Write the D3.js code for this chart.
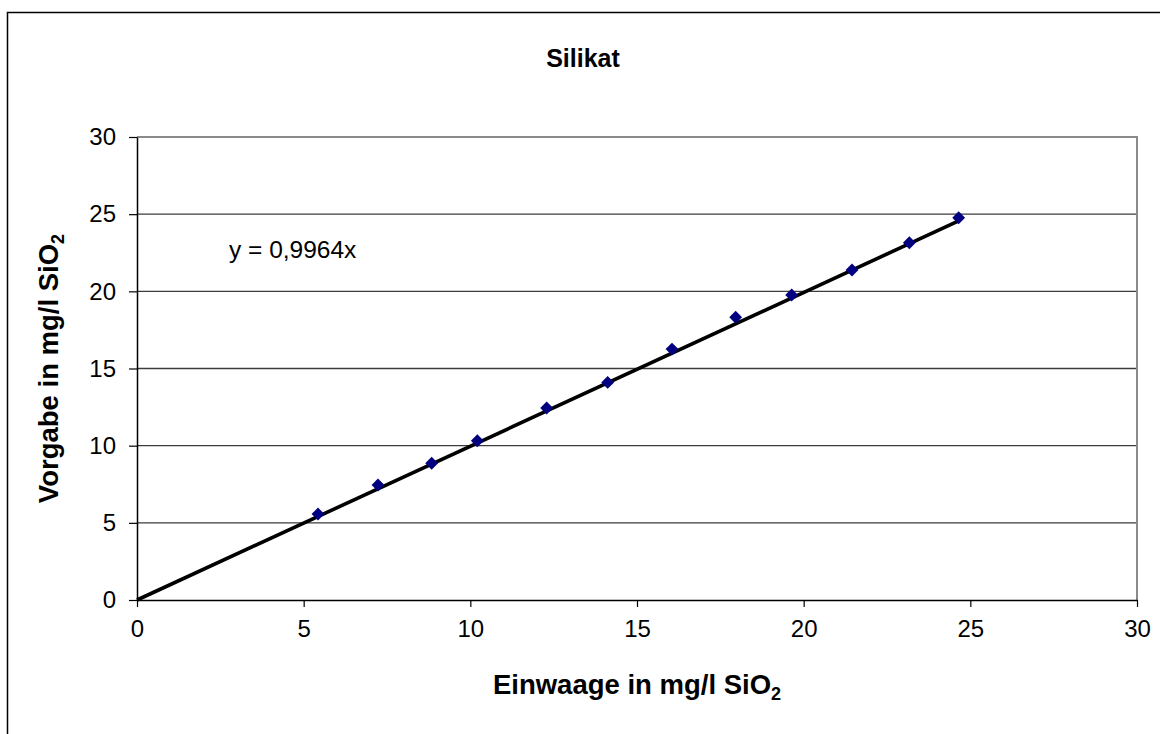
<!DOCTYPE html>
<html><head><meta charset="utf-8">
<script src="https://cdn.jsdelivr.net/npm/d3@7"></script>
<style>html,body{margin:0;padding:0;background:#fff}svg{display:block}</style>
</head><body>
<script>
const title = "Silikat";
const xTitle = "Einwaage in mg/l SiO";
const yTitle = "Vorgabe in mg/l SiO";
const einwaage = [5.43, 7.23, 8.84, 10.21, 12.29, 14.12, 16.05, 17.96, 19.64, 21.45, 23.17, 24.65];
const vorgabe  = [5.57, 7.45, 8.86, 10.32, 12.44, 14.10, 16.26, 18.32, 19.76, 21.38, 23.15, 24.77];
const slope = 0.9964;
const equation = "y = 0,9964x";
const xTicks = [0, 5, 10, 15, 20, 25, 30];
const yTicks = [0, 5, 10, 15, 20, 25, 30];

const W = 1160, H = 734;
const m = {left: 137, top: 137, right: 1137, bottom: 600};
const font = "Arial, 'Liberation Sans', sans-serif";

const svg = d3.select("body").append("svg").attr("width", W).attr("height", H);
svg.append("rect").attr("width", W).attr("height", H).attr("fill", "#fff");
svg.append("path").attr("d", `M7.5,${H} V12.5 H${W}`).attr("fill", "none").attr("stroke", "#000").attr("stroke-width", 1.5);

const x = d3.scaleLinear().domain([0, 30]).range([m.left, m.right]);
const y = d3.scaleLinear().domain([0, 30]).range([m.bottom, m.top]);

// gridlines
svg.append("g").selectAll("line").data(yTicks.filter(t => t > 0 && t < 30)).join("line")
  .attr("x1", m.left).attr("x2", m.right).attr("y1", d => y(d)).attr("y2", d => y(d))
  .attr("stroke", "#3c3c3c").attr("stroke-width", 1.3);

// plot border (top/right gray)
svg.append("path").attr("d", `M${m.left},${m.top} H${m.right} V${m.bottom}`)
  .attr("fill", "none").attr("stroke", "#8a8a8a").attr("stroke-width", 2);

// axes
const xAxis = svg.append("g").attr("transform", `translate(0,${m.bottom})`)
  .call(d3.axisBottom(x).tickValues(xTicks).tickSize(7).tickPadding(13).tickSizeOuter(0));
const yAxis = svg.append("g").attr("transform", `translate(${m.left},0)`)
  .call(d3.axisLeft(y).tickValues(yTicks).tickSize(8).tickPadding(13).tickSizeOuter(0));
[xAxis, yAxis].forEach(a => {
  a.select(".domain").attr("stroke", "#000").attr("stroke-width", 1.5);
  a.selectAll(".tick line").attr("stroke", "#000").attr("stroke-width", 1.2);
  a.selectAll(".tick text").attr("font-family", font).attr("font-size", 24).attr("fill", "#000");
});

// trendline
const xMax = d3.max(einwaage);
svg.append("line").attr("x1", x(0)).attr("y1", y(0)).attr("x2", x(xMax)).attr("y2", y(slope * xMax))
  .attr("stroke", "#000").attr("stroke-width", 3.6);

// markers
const pts = einwaage.map((v, i) => [v, vorgabe[i]]);
svg.append("g").selectAll("path").data(pts).join("path")
  .attr("d", d3.symbol().type(d3.symbolDiamond2).size(105))
  .attr("transform", d => `translate(${x(d[0])},${y(d[1])})`)
  .attr("fill", "#000080");

// equation
svg.append("text").attr("x", 229).attr("y", 258).attr("font-family", font).attr("font-size", 24.5)
  .attr("fill", "#000").text(equation);

// title
svg.append("text").attr("x", 583).attr("y", 67).attr("text-anchor", "middle")
  .attr("font-family", font).attr("font-size", 25).attr("font-weight", "bold").text(title);

// x title
const xt = svg.append("text").attr("x", (m.left + m.right) / 2).attr("y", 694).attr("text-anchor", "middle")
  .attr("font-family", font).attr("font-size", 27.5).attr("font-weight", "bold");
xt.append("tspan").text(xTitle);
xt.append("tspan").attr("font-size", 18).attr("dy", 6).text("2");

// y title
const yt = svg.append("text").attr("transform", `translate(58,${(m.top + m.bottom) / 2}) rotate(-90)`)
  .attr("text-anchor", "middle").attr("font-family", font).attr("font-size", 27.5).attr("font-weight", "bold");
yt.append("tspan").text(yTitle);
yt.append("tspan").attr("font-size", 18).attr("dy", 6).text("2");
</script>
</body></html>
